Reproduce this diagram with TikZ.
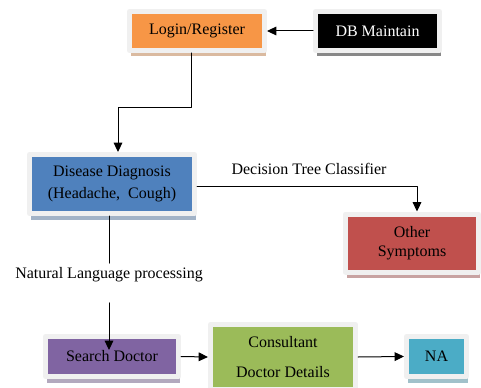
\documentclass[tikz,border=0pt]{standalone}
\usepackage{fontspec}
\setmainfont{Liberation Serif}
\usepackage{tikz}
\usetikzlibrary{arrows.meta}
\usetikzlibrary{positioning}
\usetikzlibrary{shadows}

\definecolor{boxorange}{HTML}{F79646}
\definecolor{boxblue}{HTML}{4F81BD}
\definecolor{boxred}{HTML}{C0504D}
\definecolor{boxpurple}{HTML}{8064A2}
\definecolor{boxgreen}{HTML}{9BBB59}
\definecolor{boxcyan}{HTML}{4BACC6}

\tikzset{
  module/.style={draw=black!6, line width=3.75pt, fill=#1, inner sep=0pt, align=center,
    font=\fontsize{12}{14.5}\selectfont,
    drop shadow={fill=#1!55!gray!60, opacity=1, shadow xshift=0.75pt, shadow yshift=-4.5pt}},
  lbl/.style={font=\fontsize{12}{14.5}\selectfont},
  link/.style={line width=0.75pt, ->}
}

\begin{document}
\begin{tikzpicture}[line cap=round,line join=round,>={Triangle[length=7pt,width=6.5pt]},x=0.75pt,y=-0.75pt]
\useasboundingbox (0,0) rectangle (481,388);
\node[module=boxorange, minimum width=101.25pt, minimum height=29.25pt] (login) at (197,31) {Login/Register};
\node[module=black, text=white, minimum width=93pt, minimum height=29.25pt] (db) at (377.5,31) {DB Maintain};
\node[module=boxblue, minimum width=123.75pt, minimum height=44.25pt] (diag) at (112,184) {Disease Diagnosis\\[2pt](Headache,\ \ Cough)};
\node[module=boxred, minimum width=99.75pt, minimum height=43.5pt] (other) at (412,243) {Other\\Symptoms};
\node[module=boxpurple, minimum width=99.75pt, minimum height=30pt] (search) at (112,356.5) {Search Doctor};
\node[module=boxgreen, minimum width=108.75pt, minimum height=48.75pt] (consult) at (283,357) {Consultant\\[8pt]Doctor Details};
\node[module=boxcyan, minimum width=45pt, minimum height=30pt] (na) at (436.5,356.5) {NA};
\node[lbl] (dtc) at (309,169) {Decision Tree Classifier};
\node[lbl] (nlp) at (109,275) {Natural Language processing};
% connectors
\draw[link] (db.west) -- (login.east);
\draw[link] ([xshift=-4.5pt]login.south) -- ++(0,54.5) -| ([xshift=4.5pt]diag.north);
\draw[link] ([yshift=-2.25pt]diag.east) -| ([xshift=3.75pt]other.north);
\draw[line width=0.75pt] ([xshift=-2.25pt]diag.south) -- (nlp.north);
\draw[link] ([yshift=-12pt]nlp.south) -- ([yshift=-12pt]nlp.south |- search.north);
\draw[link] (search.east) -- (consult.west);
\draw[link] (consult.east) -- (na.west);
\end{tikzpicture}
\end{document}
